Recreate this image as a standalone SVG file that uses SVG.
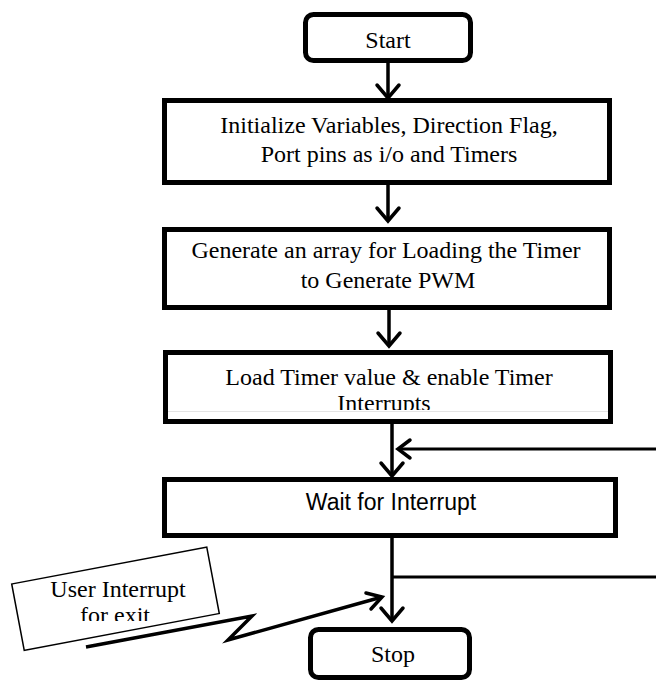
<svg xmlns="http://www.w3.org/2000/svg" width="656" height="682" viewBox="0 0 656 682">
<style>
.box{fill:#fff;stroke:#000;stroke-width:5}
.t{font-family:"Liberation Serif","Times New Roman",serif;font-size:24px;fill:#000;text-anchor:middle}
.s{font-family:"Liberation Sans",Arial,sans-serif;font-size:23px;fill:#000;text-anchor:middle}
.c{fill:none;stroke:#000;stroke-width:3.5;stroke-linecap:butt;stroke-linejoin:miter}
.h{fill:none;stroke:#000;stroke-width:3.5;stroke-linecap:round;stroke-linejoin:miter}
</style>
<defs>
<clipPath id="clipLoad"><rect x="160" y="340" width="460" height="70"/></clipPath>
<clipPath id="clipUser"><rect x="0" y="560" width="260" height="61"/></clipPath>
</defs>
<rect width="656" height="682" fill="#fff"/>
<g id="connectors">
<path class="c" d="M388 63V97"/><path class="h" d="M377 85L388 98L399 85"/>
<path class="c" d="M388 185V220"/><path class="h" d="M377 208L388 221L399 208"/>
<path class="c" d="M389 310V345"/><path class="h" d="M378 333L389 346L400 333"/>
<path class="c" d="M392 424V475"/><path class="h" d="M381 463L392 476L403 463"/>
<path class="c" d="M656 449H398" style="stroke-width:3"/><path class="h" d="M410 440L398 449L410 458"/>
<path class="c" d="M392 538V620"/><path class="h" d="M381 608L392 621L403 608"/>
<path class="c" d="M392 577H656" style="stroke-width:3"/>
</g>
<g id="start"><rect class="box" x="305.5" y="14.5" width="165" height="46" rx="8"/><text class="t" x="388" y="48">Start</text></g>
<g id="init"><rect class="box" x="164.5" y="100.5" width="445" height="82"/><text class="t" x="389" y="133">Initialize Variables, Direction Flag,</text><text class="t" x="389" y="162">Port pins as i/o and Timers</text></g>
<g id="generate"><rect class="box" x="164.5" y="229.5" width="445" height="78"/><text class="t" x="386" y="258">Generate an array for Loading the Timer</text><text class="t" x="388" y="288">to Generate PWM</text></g>
<g id="load"><rect class="box" x="165.5" y="352.5" width="445" height="69"/><line x1="168" y1="411.5" x2="608" y2="411.5" stroke="#e4e4e4" stroke-width="1"/><g clip-path="url(#clipLoad)"><text class="t" x="389" y="385">Load Timer value &amp; enable Timer</text><text class="t" x="384" y="411">Interrupts</text></g></g>
<g id="wait"><rect class="box" x="164.5" y="479.5" width="451" height="56"/><text class="s" x="391" y="510">Wait for Interrupt</text></g>
<g id="stop"><rect class="box" x="310.5" y="629.5" width="159" height="48" rx="8"/><text class="t" x="393" y="662">Stop</text></g>
<g id="user"><rect x="-99.25" y="-33.75" width="198.5" height="67.5" fill="#fff" stroke="#000" stroke-width="1.5" transform="translate(115.5 598.75) rotate(-10.7)"/><text class="t" x="118" y="597">User Interrupt</text><g clip-path="url(#clipUser)"><text class="t" x="115" y="623">for exit</text></g></g>
<g id="lightning"><path d="M86 647L252 616L228 640L382 597" fill="none" stroke="#000" stroke-width="3.5" stroke-linejoin="miter"/><path class="h" d="M366 593L382 597L371 609"/></g>
</svg>
